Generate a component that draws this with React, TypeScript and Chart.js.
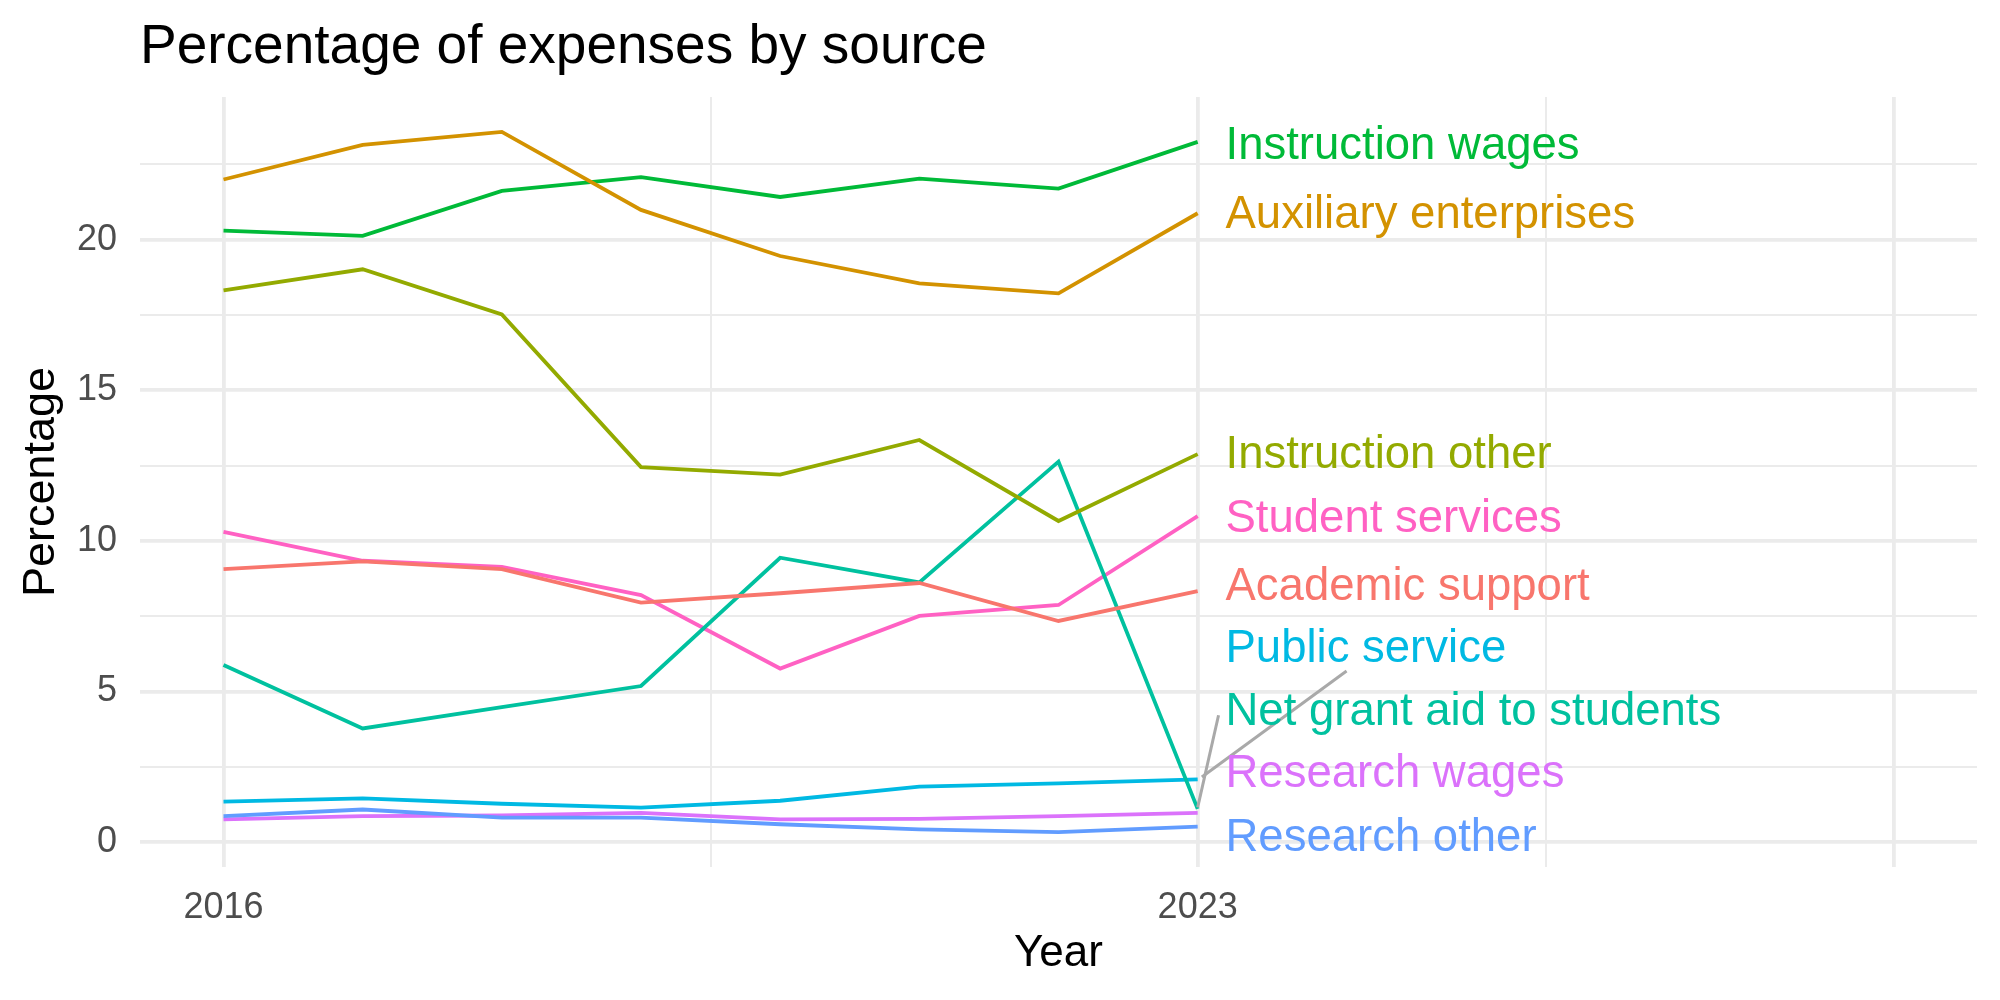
import { useEffect, useRef } from "react";
import { Chart, registerables } from "chart.js";

Chart.register(...registerables);

const FONT = "'Liberation Sans', Arial, Helvetica, sans-serif";

// Fiscal years on the x axis
const years = [2016, 2017, 2018, 2019, 2020, 2021, 2022, 2023];

// Share of total expenses (%) per source and year
const academicSupport = [9.06, 9.32, 9.06, 7.95, 8.26, 8.6, 7.34, 8.33];
const auxiliaryEnterprises = [22.0, 23.15, 23.58, 20.99, 19.46, 18.55, 18.22, 20.88];
const instructionOther = [18.32, 19.02, 17.52, 12.45, 12.2, 13.35, 10.66, 12.88];
const instructionWages = [20.3, 20.13, 21.62, 22.08, 21.42, 22.03, 21.7, 23.25];
const netGrantAid = [5.88, 3.77, 4.48, 5.18, 9.44, 8.62, 12.63, 1.1];
const publicService = [1.34, 1.45, 1.27, 1.14, 1.37, 1.84, 1.95, 2.08];
const researchOther = [0.86, 1.08, 0.81, 0.81, 0.59, 0.42, 0.33, 0.51];
const researchWages = [0.75, 0.86, 0.88, 0.97, 0.75, 0.77, 0.86, 0.97];
const studentServices = [10.3, 9.34, 9.14, 8.2, 5.76, 7.51, 7.87, 10.82];

const seriesNames = [
  "Academic support",
  "Auxiliary enterprises",
  "Instruction other",
  "Instruction wages",
  "Net grant aid to students",
  "Public service",
  "Research other",
  "Research wages",
  "Student services",
];
const seriesValues = [
  academicSupport,
  auxiliaryEnterprises,
  instructionOther,
  instructionWages,
  netGrantAid,
  publicService,
  researchOther,
  researchWages,
  studentServices,
];
const seriesColors = [
  "#F8766D",
  "#D39200",
  "#93AA00",
  "#00BA38",
  "#00C19F",
  "#00B9E3",
  "#619CFF",
  "#DB72FB",
  "#FF61C3",
];

// Axis ticks (major ones carry labels and heavier grid lines)
const xTickValues = [2016, 2019.5, 2023, 2025.5, 2028];
const xTickLabels = ["2016", "", "2023", "", ""];
const xMajorTicks = [2016, 2023, 2028];
const yTickValues = [0, 2.5, 5, 7.5, 10, 12.5, 15, 17.5, 20, 22.5];
const yMajorTicks = [0, 5, 10, 15, 20];

const xLimits = [2015.4, 2028.6];
const yLimits = [-0.83, 24.74];

// Direct labels at the end of each line: left edge (year) and vertical centre (%)
const labelYear = 2023.2;
const labelValues = [8.46, 20.8, 12.83, 23.1, 4.3, 6.38, 0.13, 2.23, 10.72];

// Leader segments for labels pushed away from their line end: [year0, value0, year1, value1]
const leaderSegments = [
  [2023.03, 2.16, 2024.07, 5.68],
  [2023.0, 1.15, 2023.15, 4.21],
];

const endLabelsPlugin = {
  id: "endLabels",
  afterDatasetsDraw(chart: any) {
    const { ctx, scales } = chart;
    const xs = scales.x;
    const ys = scales.y;
    ctx.save();
    ctx.strokeStyle = "#A9A9A9";
    ctx.lineWidth = 3;
    leaderSegments.forEach(([x0, y0, x1, y1]) => {
      ctx.beginPath();
      ctx.moveTo(xs.getPixelForValue(x0), ys.getPixelForValue(y0));
      ctx.lineTo(xs.getPixelForValue(x1), ys.getPixelForValue(y1));
      ctx.stroke();
    });
    ctx.font = `45.5px ${FONT}`;
    ctx.textAlign = "left";
    ctx.textBaseline = "middle";
    seriesNames.forEach((name, i) => {
      ctx.fillStyle = seriesColors[i];
      ctx.fillText(name, xs.getPixelForValue(labelYear), ys.getPixelForValue(labelValues[i]));
    });
    ctx.restore();
  },
};

export default function App() {
  const canvasRef = useRef<HTMLCanvasElement | null>(null);

  useEffect(() => {
    document.body.style.margin = "0";
    const canvas = canvasRef.current;
    if (!canvas) return;

    const datasets = seriesNames.map((name, i) => ({
      label: name,
      data: years.map((yr, j) => ({ x: yr, y: seriesValues[i][j] })),
      borderColor: seriesColors[i],
      backgroundColor: seriesColors[i],
      borderWidth: 3.8,
      pointRadius: 0,
      tension: 0,
      fill: false,
    }));

    const chart = new Chart(canvas, {
      type: "line",
      data: { datasets },
      plugins: [endLabelsPlugin],
      options: {
        animation: false,
        responsive: false,
        devicePixelRatio: 1,
        layout: { padding: { top: 0, right: 23, bottom: 0, left: 0 } },
        plugins: {
          legend: { display: false },
          tooltip: { enabled: false },
          title: {
            display: true,
            text: "Percentage of expenses by source",
            align: "start",
            fullSize: false,
            color: "#000000",
            font: { family: FONT, size: 55, weight: "normal" },
            padding: { top: 14.6, bottom: 16.4 },
          },
        },
        scales: {
          x: {
            type: "linear",
            bounds: "data",
            min: xLimits[0],
            max: xLimits[1],
            afterBuildTicks: (s: any) => {
              s.ticks = xTickValues.map((v) => ({ value: v }));
            },
            afterFit: (s: any) => {
              s.height = 133;
            },
            border: { display: false },
            grid: {
              color: "#EBEBEB",
              drawTicks: false,
              lineWidth: (c: any) => (xMajorTicks.includes(c.tick?.value) ? 3.8 : 2),
            },
            ticks: {
              autoSkip: false,
              maxRotation: 0,
              padding: 19,
              color: "#4D4D4D",
              font: { family: FONT, size: 36 },
              callback: (v: any) => xTickLabels[xTickValues.indexOf(Number(v))] ?? "",
            },
            title: {
              display: true,
              text: "Year",
              color: "#000000",
              font: { family: FONT, size: 44 },
              padding: { top: 0, bottom: 20 },
            },
          },
          y: {
            type: "linear",
            bounds: "data",
            min: yLimits[0],
            max: yLimits[1],
            afterBuildTicks: (s: any) => {
              s.ticks = yTickValues.map((v) => ({ value: v }));
            },
            afterFit: (s: any) => {
              s.width = 140;
            },
            border: { display: false },
            grid: {
              color: "#EBEBEB",
              drawTicks: false,
              lineWidth: (c: any) => (yMajorTicks.includes(c.tick?.value) ? 3.8 : 2),
            },
            ticks: {
              autoSkip: false,
              padding: 23,
              color: "#4D4D4D",
              font: { family: FONT, size: 36 },
              callback: (v: any) => (yMajorTicks.includes(Number(v)) ? String(v) : ""),
            },
            title: {
              display: true,
              text: "Percentage",
              color: "#000000",
              font: { family: FONT, size: 45 },
              padding: { top: 15, bottom: 0 },
            },
          },
        },
      } as any,
    });

    return () => chart.destroy();
  }, []);

  return (
    <div style={{ width: 2000, height: 1000, background: "#ffffff" }}>
      <canvas ref={canvasRef} width={2000} height={1000} style={{ display: "block" }} />
    </div>
  );
}
